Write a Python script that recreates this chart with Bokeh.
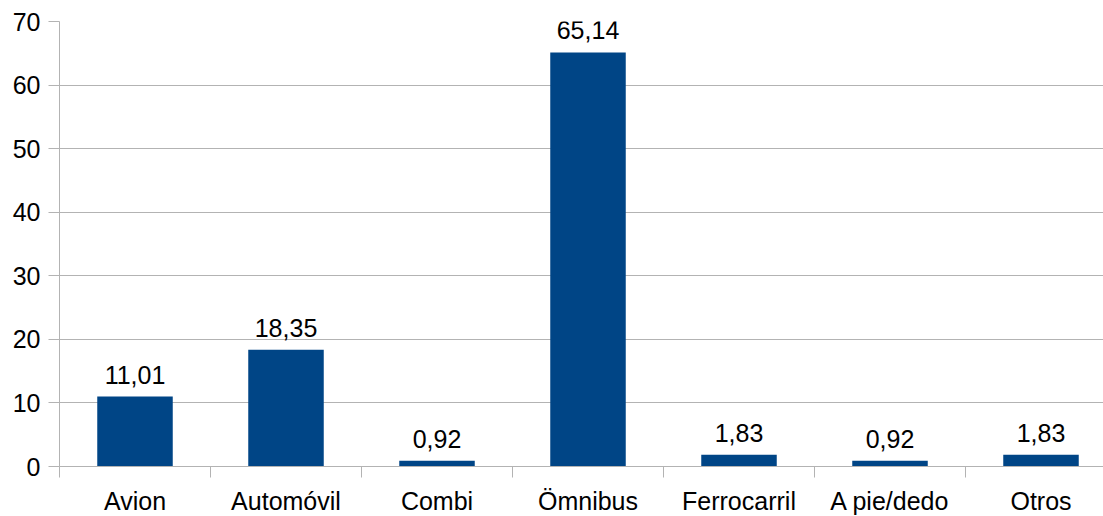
from bokeh.plotting import figure
from bokeh.models import ColumnDataSource, Range1d, FixedTicker, LabelSet
from bokeh.core.properties import value
from bokeh.embed import file_html
from bokeh.resources import INLINE

categories = ["Avion", "Automóvil", "Combi", "Ömnibus", "Ferrocarril", "A pie/dedo", "Otros"]
values = [11.01, 18.35, 0.92, 65.14, 1.83, 0.92, 1.83]
y_ticks = [0, 10, 20, 30, 40, 50, 60, 70]

FONT = "Liberation Sans"
FS = "25px"
GRAY = "#b3b3b3"
BLUE = "#004586"

FRAME_W, FRAME_H = 1044, 445
LEFT, TOP = 59, 21
CAT_PX = 151.0

centers = [i + 0.5 for i in range(len(categories))]
labels = [("%.2f" % v).replace(".", ",") for v in values]
src = ColumnDataSource(dict(x=centers, top=values, lab=labels))

p = figure(frame_width=FRAME_W, frame_height=FRAME_H, output_backend="svg", toolbar_location=None,
           x_range=Range1d(0, FRAME_W / CAT_PX), y_range=Range1d(0, 70),
           min_border_left=LEFT, min_border_right=0, min_border_top=TOP,
           min_border_bottom=0)
p.outline_line_color = None
p.background_fill_color = "white"
p.border_fill_color = "white"

p.vbar(x="x", top="top", width=0.5, bottom=0, source=src, fill_color=BLUE, line_color=None)
p.add_layout(LabelSet(x="x", y="top", text="lab", source=src, text_align="center",
                      text_baseline="alphabetic", y_offset=13, text_font=value(FONT),
                      text_font_size=FS, text_color="black"))

# x axis
p.xaxis.ticker = FixedTicker(ticks=centers, minor_ticks=list(range(len(categories) + 1)))
p.xaxis.major_label_overrides = {c: n for c, n in zip(centers, categories)}
p.xaxis.major_tick_out = 0
p.xaxis.major_tick_in = 0
p.xaxis.minor_tick_out = 11
p.xaxis.minor_tick_in = 0
p.xaxis.minor_tick_line_color = GRAY
p.xaxis.axis_line_color = GRAY
p.xaxis.major_label_standoff = 9
p.xaxis.major_label_text_font = FONT
p.xaxis.major_label_text_font_size = FS
p.xaxis.major_label_text_color = "black"
p.xgrid.grid_line_color = None

# y axis
p.yaxis.ticker = FixedTicker(ticks=y_ticks)
p.yaxis.major_tick_out = 11
p.yaxis.major_tick_in = 0
p.yaxis.minor_tick_line_color = None
p.yaxis.major_tick_line_color = GRAY
p.yaxis.axis_line_color = GRAY
p.yaxis.major_label_standoff = 8
p.yaxis.major_label_text_font = FONT
p.yaxis.major_label_text_font_size = FS
p.yaxis.major_label_text_color = "black"
p.ygrid.grid_line_color = GRAY
p.ygrid.ticker = FixedTicker(ticks=y_ticks)

open("out.html", "w").write(file_html(p, INLINE))
